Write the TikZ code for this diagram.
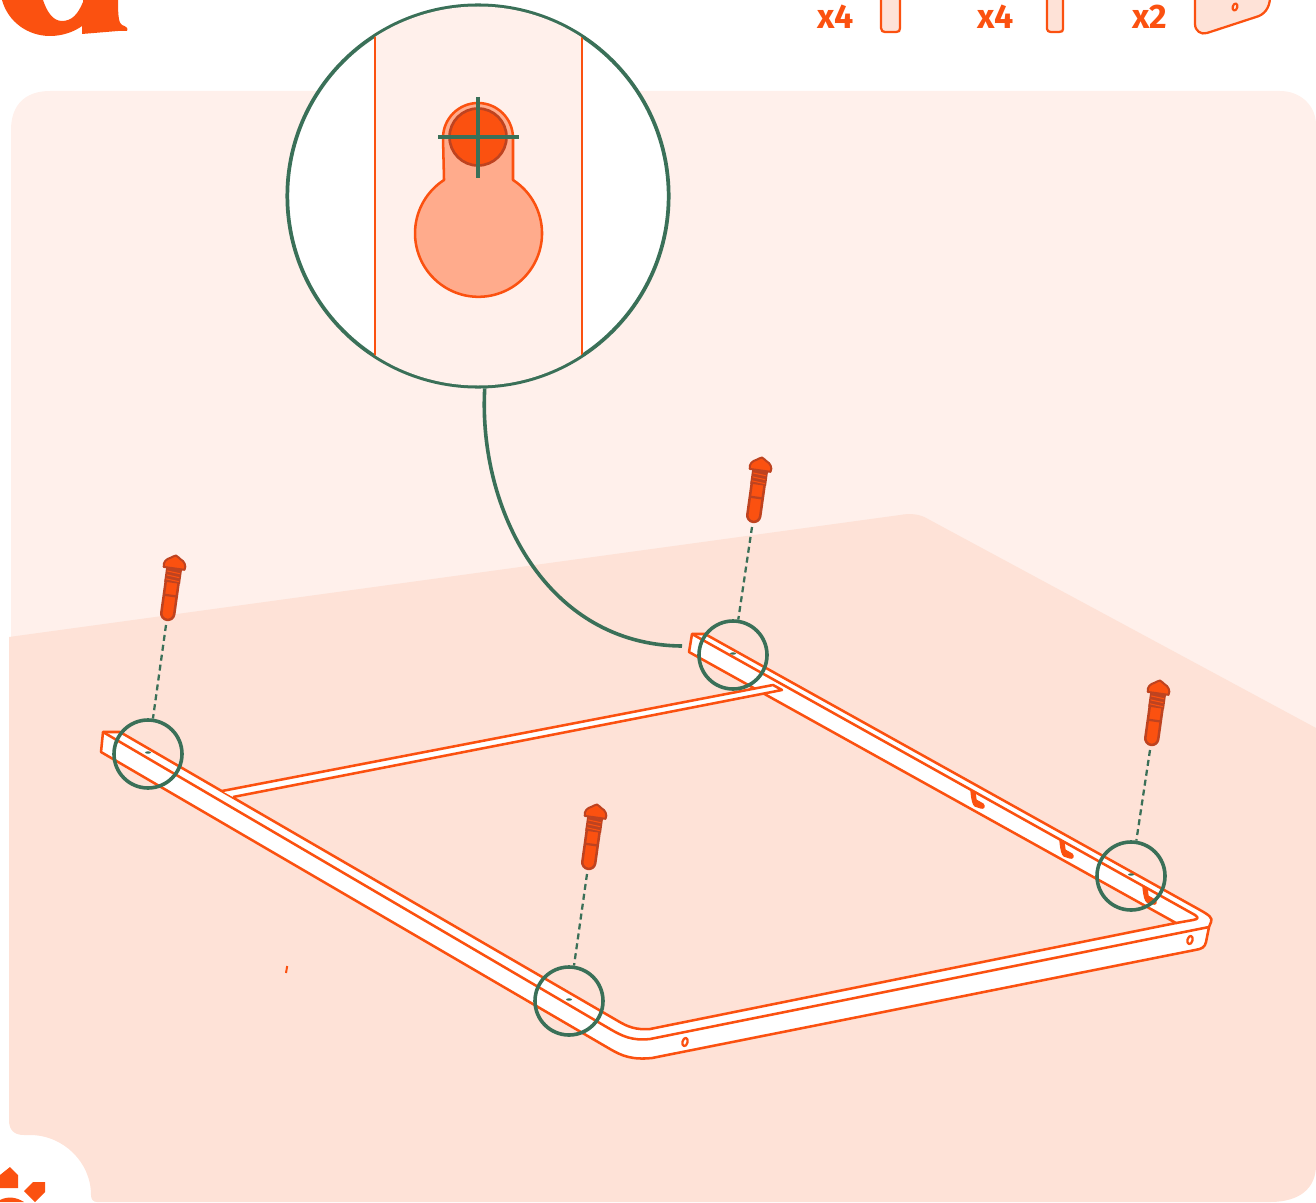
\documentclass[tikz,border=0pt]{standalone}
\usepackage{fontspec}
\setmainfont{Fira Sans}
\usepackage{tikz}
\definecolor{rust}{HTML}{FB5110}
\definecolor{rustdark}{HTML}{BE4320}
\definecolor{peach}{HTML}{FFAB8C}
\definecolor{wall}{HTML}{FFF0EB}
\definecolor{floorpink}{HTML}{FEE2D7}
\definecolor{pine}{HTML}{3A7058}
\begin{document}
\begin{tikzpicture}[x=0.75pt, y=-0.75pt, line join=round,
	edge/.style={draw=rust, line width=1.9pt},
	part/.style={draw=rust, fill=floorpink, line width=1.7pt},
	count/.style={font=\fontsize{25.5}{25.5}\selectfont\bfseries, text=rust, anchor=base west, inner sep=0pt},
	spot/.style={circle, draw=pine, line width=2.7pt, minimum size=51pt, inner sep=0pt},
	lens/.style={circle, draw=pine, fill=white, line width=2.8pt, minimum size=286pt, inner sep=0pt},
	leader/.style={draw=pine, line width=1.7pt, dash pattern=on 4.5pt off 3pt},
	lead/.style={draw=pine, line width=2.7pt},
	screw/.pic={
		\draw[rustdark, fill=rust, line width=1.9pt] (-6.5,26) -- (-6.5,59) arc[start angle=180, end angle=0, radius=6.5] -- (6.5,26) -- cycle;
		\draw[rustdark, line width=1.7pt] (-6,41) -- (6,41);
		\fill[rustdark] (-8,14) rectangle (8,28);
		\foreach \t in {17,21,25} {\draw[rust, line width=0.8pt] (-6.5,\t) -- (6.5,\t+1);}
		\draw[rustdark, fill=rust, line width=1.5pt] (-10.5,13.5) .. controls (-12,9) and (-9,5) .. (-5,3.5) .. controls (-3,3) and (-2,0.5) .. (0,0.5) .. controls (2,0.5) and (3,3) .. (5,3.5) .. controls (9,5) and (12,9) .. (10.5,13.5) -- cycle;
	},
	hook/.pic={
		\draw[rust, fill=rust, line width=1pt] (0,0) -- (4,1) -- (5,9) -- (12,13) .. controls (14,15) and (13,18) .. (10,17) -- (4,15) .. controls (2,13) and (1,10) .. cycle;
	}]
	\useasboundingbox (0,0) rectangle (1316,1202);
	\fill[wall] (11,640) -- (11,130) .. controls (11,105) and (25,91) .. (50,91) -- (1280,91) .. controls (1300,91) and (1316,105) .. (1316,125) -- (1316,740) -- cycle;
	\fill[floorpink] (9,637) -- (900,515) .. controls (910,513) and (920,514) .. (928,519) -- (1316,728) -- (1316,1165) .. controls (1316,1188) and (1300,1202) .. (1270,1202) -- (97,1202) .. controls (93,1202) and (91,1199) .. (91,1195) .. controls (91,1162) and (63,1135) .. (30,1135) -- (24,1135) .. controls (14,1135) and (9,1130) .. (9,1120) -- cycle;

	\fill[rust] (2,0) .. controls (8,22) and (28,36) .. (50,36) .. controls (62,36) and (74,32) .. (82,26) -- (82,34) -- (118,31) -- (127,31) .. controls (129,28) and (125,26) .. (122,25) .. controls (119,23) and (118,18) .. (118,0) -- (83,0) -- (83,2) .. controls (78,14) and (72,21) .. (62,21) .. controls (53,21) and (47,12) .. (43,0) -- cycle;
	\fill[rust] (10,1167) -- (18,1175) -- (18,1188) -- (0,1188) -- (0,1175) -- cycle;
	\fill[rust] (33,1182) -- (45,1182) -- (45,1192) -- (35,1202) -- (24,1191) -- cycle;
	\fill[rust] (0,1202) -- (0,1200) .. controls (8,1196) and (16,1197) .. (24,1202) -- cycle;

	\node[count] (countA) at (817,29) {x4};
	\node[count] (countB) at (977,29) {x4};
	\node[count] (countC) at (1132,29) {x2};
	\draw[part] (881,-3) -- (881,28) .. controls (881,31) and (883,32) .. (885,32) -- (896,32) .. controls (899,32) and (900,31) .. (900,28) -- (900,-3);
	\draw[part] (1047,-3) -- (1047,29) .. controls (1047,31) and (1049,32) .. (1051,32) -- (1059,32) .. controls (1062,32) and (1063,31) .. (1063,29) -- (1063,-3);
	\draw[part] (1195,-3) -- (1195,24) .. controls (1195,31) and (1201,35) .. (1207,33) -- (1256,17) .. controls (1264,15) and (1270,8) .. (1270,-3);
	\draw[rust, line width=1.6pt] (1235,7) ellipse[x radius=2.3, y radius=3.6, rotate=-15];

	\draw[edge, fill=white] (101,752) -- (103,732) -- (120,732) -- (618,1021) .. controls (628,1027) and (636,1030) .. (650,1029) -- (1176,923) -- (689,652) -- (692,634) -- (705,634) -- (1200,910) .. controls (1209,915) and (1213,918) .. (1211,922) -- (1209,927) -- (1206,942) .. controls (1205,947) and (1202,949) .. (1195,950) -- (652,1058) .. controls (632,1060) and (622,1056) .. (610,1049) -- cycle;
	\draw[edge] (103,732) -- (610,1029) .. controls (622,1036) and (632,1041) .. (650,1039) -- (1209,927);
	\draw[edge] (692,634) -- (1195,915) .. controls (1199,918) and (1198,919) .. (1193,920) -- (1176,923);
	\draw[edge, fill=white] (222,791) -- (773,685) -- (782,690) -- (233,797);
	\foreach \hx/\hy in {971/791, 1060/841, 1143/887} {\pic at (\hx,\hy) {hook};}
	\draw[rust, line width=1.7pt] (685,1042) ellipse[x radius=2.5, y radius=4.2, rotate=-15];
	\draw[rust, line width=1.7pt] (1190,940) ellipse[x radius=2.5, y radius=4.2, rotate=-15];
	\draw[rust, line width=1.5pt] (286,973) -- (287.2,966);

	\node[lens] (zoomlens) at (478,196) {};
	\begin{scope}
		\clip (zoomlens.center) circle (189.5);
		\fill[wall] (375,0) rectangle (582,400);
		\draw[edge] (375,0) -- (375,400);
		\draw[edge] (582,0) -- (582,400);
	\end{scope}
	\draw[edge, fill=peach] (443,138) arc[start angle=180, end angle=360, radius=35] -- (513,180) arc[start angle=-57.1, end angle=237.1, radius=63.5] -- cycle;
	\draw[rustdark, fill=rust, line width=2pt] (478,137) circle (28.5);
	\draw[draw=pine, line width=2.6pt] (438,137) -- (519,137);
	\draw[draw=pine, line width=2.6pt] (478,97) -- (478,178);
	\coordinate (leadend) at (682,646);
	\draw[lead] (zoomlens.-88.5) .. controls (478,510) and (547,645) .. (leadend);

	\foreach \n/\sx/\sy/\cx/\cy in {A/176/555/148/754, B/762/457/733/655, C/1160/680/1131/876, D/597/804/569/1001} {
		\pic[rotate=-8] at (\sx,\sy) {screw};
		\coordinate (tip\n) at ([shift={(\sx,\sy)}]-10,70);
		\node[spot] (spot\n) at (\cx,\cy) {};
		\draw[leader] (tip\n) -- (spot\n);
		\fill[pine] (\cx,\cy-1.5) ellipse[x radius=3, y radius=1.2];
	}
\end{tikzpicture}
\end{document}
